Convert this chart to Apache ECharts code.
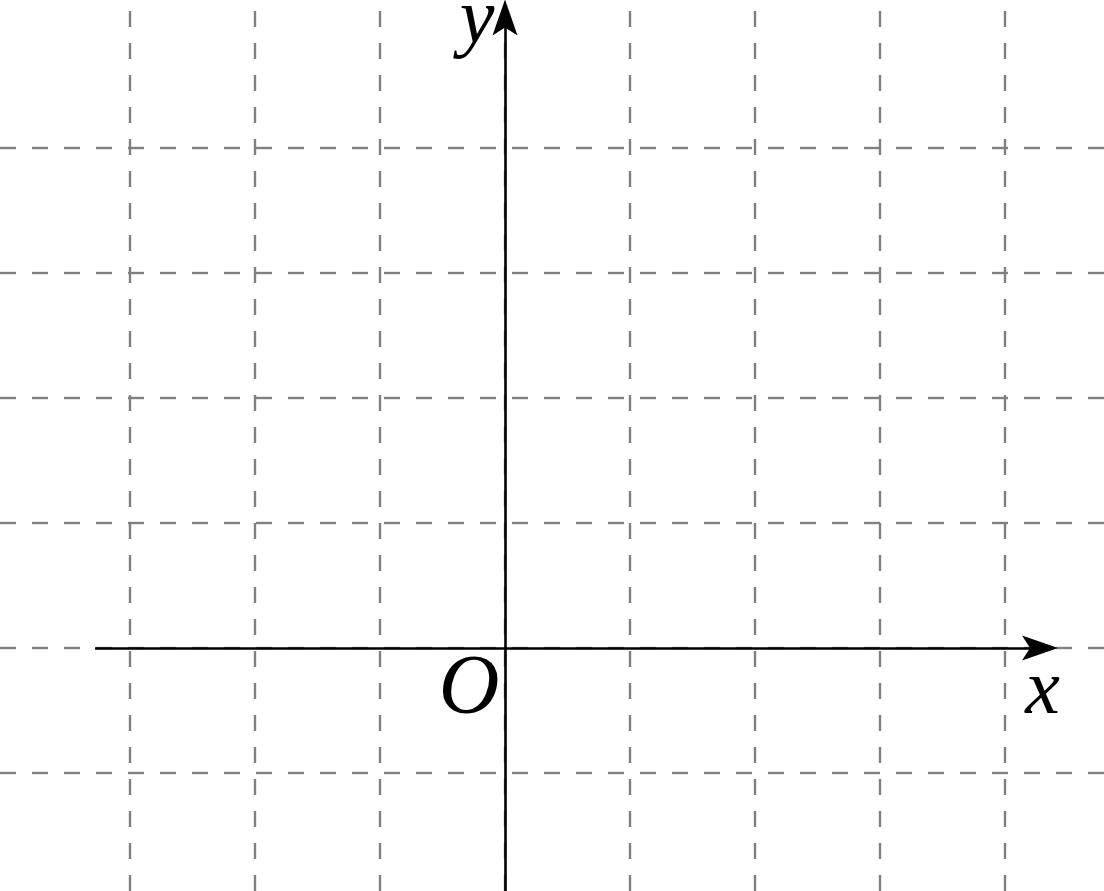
<!DOCTYPE html>
<html>
<head>
<meta charset="utf-8">
<script src="https://cdn.jsdelivr.net/npm/echarts@6/dist/echarts.min.js"></script>
<style>
html,body{margin:0;padding:0;background:#fff;}
#chart{width:1104px;height:891px;}
</style>
</head>
<body>
<div id="chart"></div>
<script>
// ---- data ----
const xRange = [-4.04, 4.792];
const yRange = [-1.944, 5.184];
const xGridValues = [-3, -2, -1, 0, 1, 2, 3, 4];
const yGridValues = [-1, 0, 1, 2, 3, 4];
const xAxisSpan = [-3.28, 4.28];
const yAxisSpan = [-1.944, 5.044];
const axisLabelTexts = ['O', 'x', 'y'];
const axisLabelCoords = [[-0.288, -0.344], [4.3, -0.358], [-0.224, 5.01]];

// ---- chart ----
const chart = echarts.init(document.getElementById('chart'), null, {renderer: 'canvas'});
const gridStyle = {color: '#808080', width: 2.4, type: [16, 16], dashOffset: 0};
const axisStyle = {color: '#000', width: 2.6, type: 'solid'};
const arrowPath = 'path://M0,0 L12.5,36 L0,28 L-12.5,36 Z';
const labelSizes = [84, 78, 78];

const option = {
  animation: false,
  backgroundColor: '#fff',
  grid: {left: 0, right: 0, top: 0, bottom: 0, containLabel: false},
  xAxis: {type: 'value', min: xRange[0], max: xRange[1], show: false},
  yAxis: {type: 'value', min: yRange[0], max: yRange[1], show: false},
  series: [
    {
      type: 'line', data: [], z: 1, silent: true,
      markLine: {
        silent: true, symbol: ['none', 'none'], label: {show: false},
        lineStyle: gridStyle, emphasis: {disabled: true},
        data: xGridValues.map(v => ({xAxis: v})).concat(yGridValues.map(v => ({yAxis: v})))
      }
    },
    {
      type: 'line', data: [], z: 2, silent: true,
      markLine: {
        silent: true, symbol: ['none', arrowPath], symbolSize: 36, symbolKeepAspect: true,
        label: {show: false}, lineStyle: axisStyle, itemStyle: {color: '#000'},
        emphasis: {disabled: true},
        data: [
          [{coord: [xAxisSpan[0], 0]}, {coord: [xAxisSpan[1], 0]}],
          [{coord: [0, yAxisSpan[0]]}, {coord: [0, yAxisSpan[1]]}]
        ]
      }
    },
    {
      type: 'scatter', z: 3, silent: true, symbolSize: 0,
      itemStyle: {opacity: 1, color: '#000'},
      emphasis: {disabled: true},
      data: axisLabelCoords.map((c, i) => ({
        value: c, name: axisLabelTexts[i],
        label: {fontSize: labelSizes[i]}
      })),
      label: {
        show: true, position: 'inside', formatter: p => p.name,
        fontFamily: 'Liberation Serif', fontStyle: 'italic',
        color: '#000', textBorderWidth: 0
      }
    }
  ]
};
chart.setOption(option);
</script>
</body>
</html>
